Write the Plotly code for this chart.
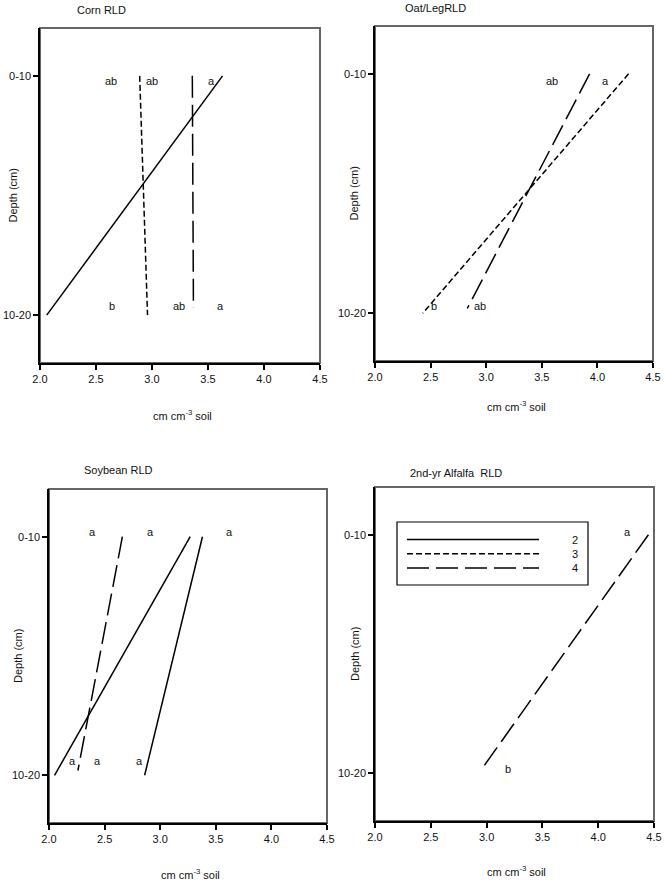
import plotly.graph_objects as go

W, H = 664, 885

# ---------------- data ----------------
depth_labels = ["0-10", "10-20"]
depth_pos = [0, 1]
x_ticks = [2.0, 2.5, 3.0, 3.5, 4.0, 4.5]
legend_labels = ["2", "3", "4"]

panel_titles = ["Corn RLD", "Oat/LegRLD", "Soybean RLD", "2nd-yr Alfalfa\u00a0 RLD"]

# RLD values (cm cm-3) at 0-10 and 10-20 cm
corn_t2 = [3.63, 2.06]
corn_t3 = [2.89, 2.96]
corn_t4 = [3.36, 3.37]
corn_t4_depth = [0, 0.97]

oat_t3 = [4.28, 2.43]
oat_t4 = [3.93, 2.83]
oat_t4_depth = [0, 0.98]

soy_t2a = [3.27, 2.05]
soy_t2b = [3.38, 2.86]
soy_t4 = [2.66, 2.26]
soy_t4_depth = [0, 0.98]

alf_t4 = [4.45, 2.96]
alf_t4_depth = [0, 0.98]

# significance letters: (text, x, depth position)
corn_letters = [("ab", 2.63, 0.02), ("ab", 3.00, 0.02), ("a", 3.53, 0.02),
                ("b", 2.64, 0.96), ("ab", 3.24, 0.96), ("a", 3.61, 0.96)]
oat_letters = [("ab", 3.59, 0.03), ("a", 4.07, 0.03),
               ("b", 2.53, 0.97), ("ab", 2.94, 0.97)]
soy_letters = [("a", 2.39, -0.02), ("a", 2.91, -0.02), ("a", 3.62, -0.02),
               ("a", 2.21, 0.94), ("a", 2.44, 0.94), ("a", 2.81, 0.94)]
alf_letters = [("a", 4.26, -0.01), ("b", 3.19, 0.98)]

# ---------------- styles ----------------
FONT = "Arial, 'Liberation Sans', sans-serif"
TXT = "#111111"
DASH = {"2": "solid", "3": "6px,3px", "4": "22px,7px"}

# panel pixel boxes: (left, top, right, bottom)
boxes = [(40, 28, 320, 363), (375, 26, 653, 361),
         (49, 489, 327, 823), (375, 487, 654, 821)]
ytitle_x = [12, 353, 18, 355]
xtitle_y = [415, 406, 874, 871]
title_pos = [(75, 10), (403, 8), (82, 470), (408, 473)]


def px2x(p):
    return p / W


def px2y(p):
    return 1 - p / H


fig = go.Figure()
layout = dict(template="none", width=W, height=H,
              margin=dict(l=0, r=0, t=0, b=0, pad=0, autoexpand=False),
              paper_bgcolor="white", plot_bgcolor="white",
              showlegend=False, font=dict(family=FONT, size=11, color=TXT))
annotations = []
shapes = []

for i, (l, t, r, b) in enumerate(boxes):
    n = "" if i == 0 else str(i + 1)
    layout["xaxis" + n] = dict(
        domain=[px2x(l), px2x(r)], anchor="y" + n, range=[2.0, 4.5],
        tickvals=x_ticks, ticktext=["%.1f" % v for v in x_ticks],
        automargin=False,
        showgrid=False, zeroline=False, showline=True, linecolor="black",
        linewidth=1.5, ticks="outside", ticklen=5, tickwidth=1.5,
        tickcolor="black", tickfont=dict(size=11, color=TXT, family=FONT))
    layout["yaxis" + n] = dict(
        domain=[px2y(b), px2y(t)], anchor="x" + n, range=[1.2, -0.2],
        tickvals=depth_pos, ticktext=depth_labels,
        automargin=False,
        showgrid=False, zeroline=False, showline=True, linecolor="black",
        linewidth=1.5, ticks="outside", ticklen=5, tickwidth=1.5,
        tickcolor="black", tickfont=dict(size=11, color=TXT, family=FONT))
    # gray frame (top/right)
    shapes.append(dict(type="rect", xref="paper", yref="paper",
                       x0=px2x(l), x1=px2x(r), y0=px2y(b), y1=px2y(t),
                       line=dict(color="#666666", width=2), layer="below"))
    # axis titles
    annotations.append(dict(text="Depth (cm)", xref="paper", yref="paper",
                            x=px2x(ytitle_x[i]), y=px2y((t + b) / 2), textangle=-90,
                            showarrow=False, xanchor="center", yanchor="middle",
                            font=dict(size=11, color=TXT, family=FONT)))
    annotations.append(dict(text="cm cm<sup>-3</sup> soil", xref="paper", yref="paper",
                            x=px2x((l + r) / 2 + 2), y=px2y(xtitle_y[i]),
                            showarrow=False, xanchor="center", yanchor="middle",
                            font=dict(size=11, color=TXT, family=FONT)))

# panel titles
for txt, (tx, ty) in zip(panel_titles, title_pos):
    annotations.append(dict(text=txt, xref="paper", yref="paper",
                            x=px2x(tx), y=px2y(ty), showarrow=False,
                            xanchor="left", yanchor="middle",
                            font=dict(size=11, color=TXT, family=FONT)))


def add_line(xs, ys, trt, ax):
    xa = "x" if ax == 1 else "x%d" % ax
    ya = "y" if ax == 1 else "y%d" % ax
    fig.add_trace(go.Scatter(x=xs, y=ys, mode="lines", xaxis=xa, yaxis=ya,
                             line=dict(color="black", width=1.5, dash=DASH[trt]),
                             name=trt, showlegend=False, hoverinfo="skip"))


add_line(corn_t2, depth_pos, "2", 1)
add_line(corn_t3, depth_pos, "3", 1)
add_line(corn_t4, corn_t4_depth, "4", 1)

add_line(oat_t3, depth_pos, "3", 2)
add_line(oat_t4, oat_t4_depth, "4", 2)

add_line(soy_t2a, depth_pos, "2", 3)
add_line(soy_t2b, depth_pos, "2", 3)
add_line(soy_t4, soy_t4_depth, "4", 3)

add_line(alf_t4, alf_t4_depth, "4", 4)

for ax, letters in enumerate([corn_letters, oat_letters, soy_letters, alf_letters], start=1):
    xa = "x" if ax == 1 else "x%d" % ax
    ya = "y" if ax == 1 else "y%d" % ax
    for txt, x, y in letters:
        annotations.append(dict(text=txt, x=x, y=y, xref=xa, yref=ya,
                                showarrow=False, xanchor="center", yanchor="middle",
                                font=dict(size=11, color=TXT, family=FONT)))

# legend box in the alfalfa panel
lg_box = (397, 522, 588, 585)
shapes.append(dict(type="rect", xref="paper", yref="paper",
                   x0=px2x(lg_box[0]), x1=px2x(lg_box[2]),
                   y0=px2y(lg_box[3]), y1=px2y(lg_box[1]),
                   line=dict(color="black", width=1.2), fillcolor="white"))
for k, lab in enumerate(legend_labels):
    yy = 539.5 + k * 14.2
    shapes.append(dict(type="line", xref="paper", yref="paper",
                       x0=px2x(407), x1=px2x(539), y0=px2y(yy), y1=px2y(yy),
                       line=dict(color="black", width=1.5, dash=DASH[lab])))
    annotations.append(dict(text=lab, xref="paper", yref="paper",
                            x=px2x(575), y=px2y(yy), showarrow=False,
                            xanchor="center", yanchor="middle",
                            font=dict(size=11, color=TXT, family=FONT)))

layout["annotations"] = annotations
layout["shapes"] = shapes
fig.update_layout(**layout)
fig.write_html("out.html", config={"displayModeBar": False},
               post_script="document.body.style.margin='0';document.body.style.overflow='hidden';")
